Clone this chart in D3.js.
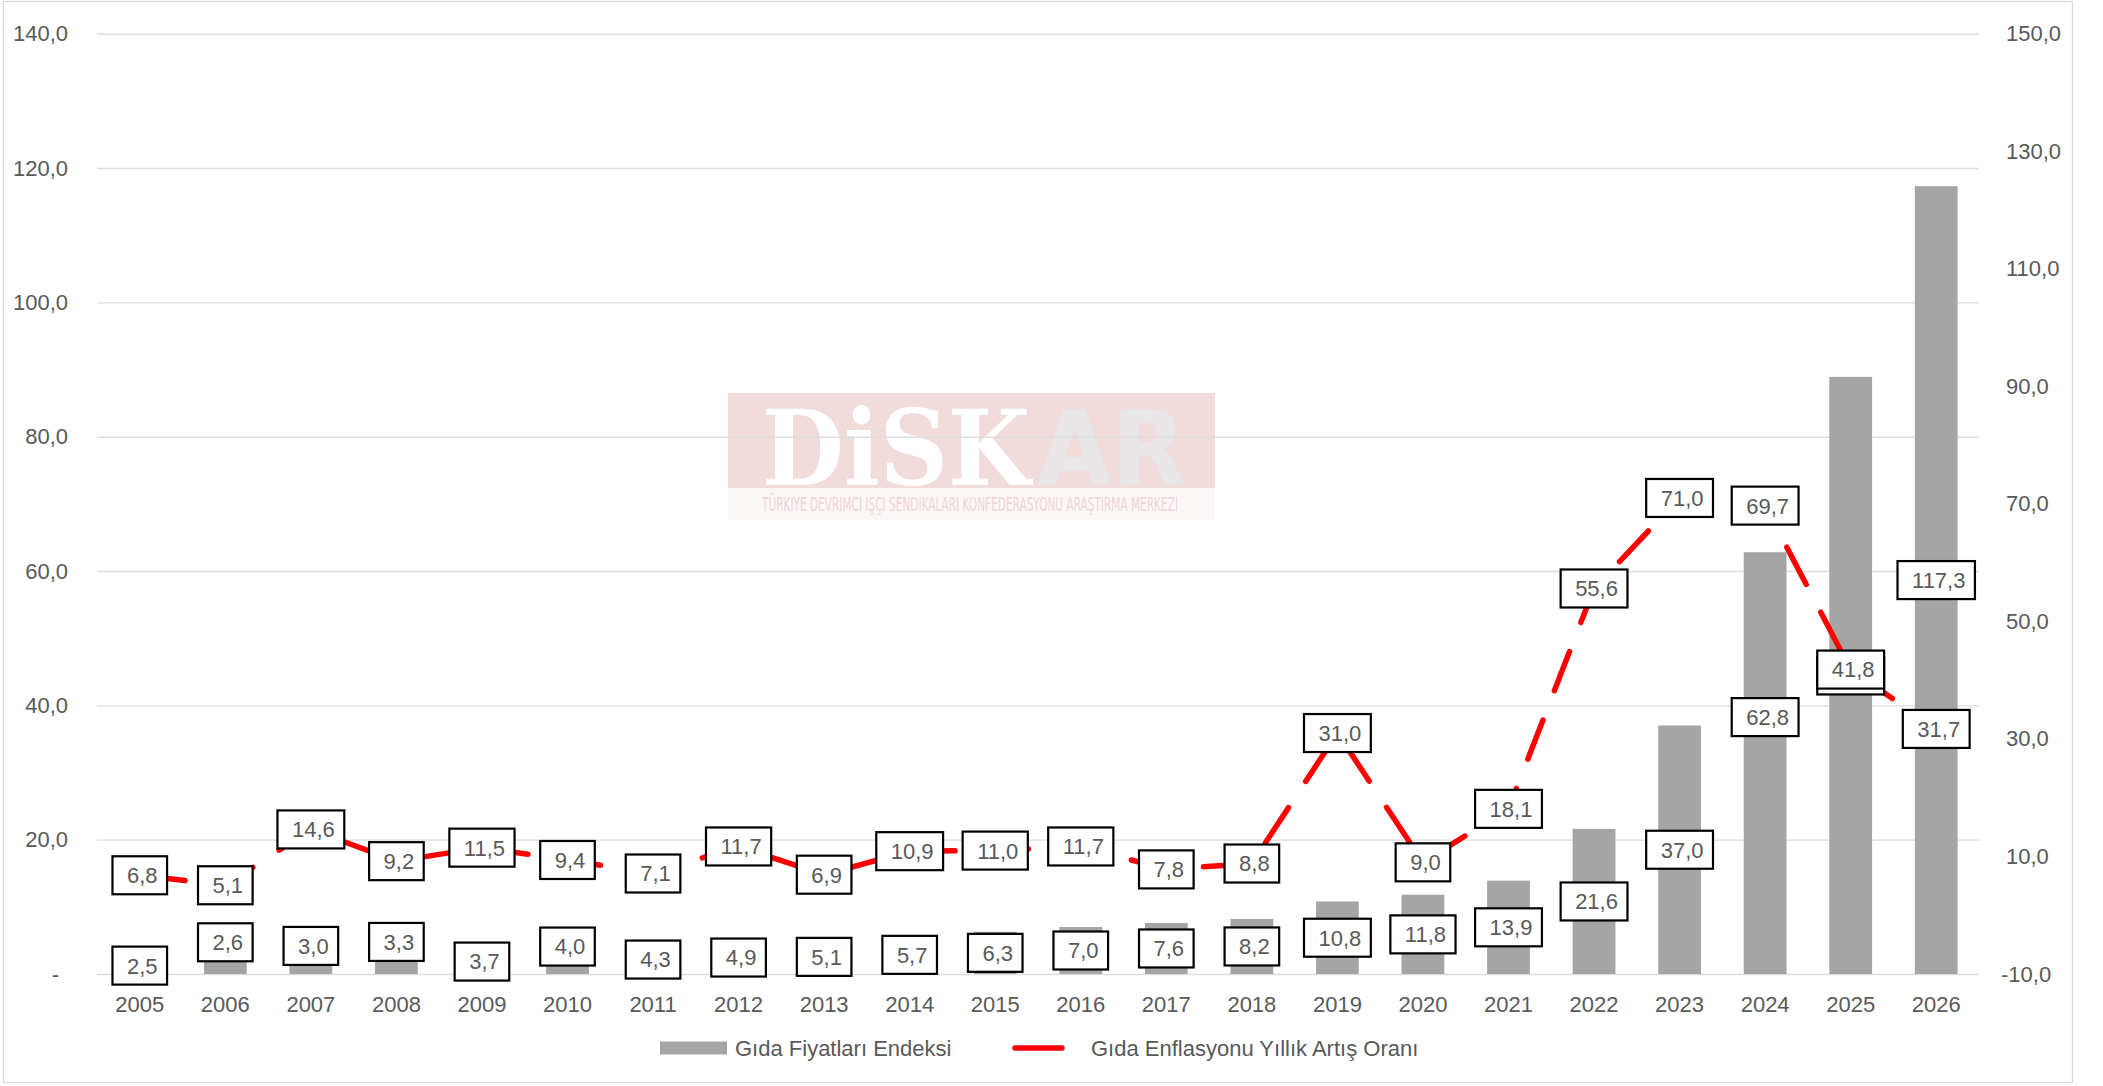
<!DOCTYPE html>
<html>
<head>
<meta charset="utf-8">
<script src="https://cdn.jsdelivr.net/npm/d3@7"></script>
<style>
  html, body { margin: 0; padding: 0; background: #fff; }
  svg { display: block; font-family: "Liberation Sans", Arial, sans-serif; }
</style>
</head>
<body>
<svg class="chart" width="2103" height="1086"></svg>
<script>
const years = ['2005', '2006', '2007', '2008', '2009', '2010', '2011', '2012', '2013', '2014', '2015',
  '2016', '2017', '2018', '2019', '2020', '2021', '2022', '2023', '2024', '2025', '2026']
const foodIndex = [2.5, 2.6, 3.0, 3.3, 3.7, 4.0, 4.3, 4.9, 5.1, 5.7, 6.3,
  7.0, 7.6, 8.2, 10.8, 11.8, 13.9, 21.6, 37.0, 62.8, 88.9, 117.3]
const foodInflation = [6.8, 5.1, 14.6, 9.2, 11.5, 9.4, 7.1, 11.7, 6.9, 10.9, 11.0,
  11.7, 7.8, 8.8, 31.0, 9.0, 18.1, 55.6, 71.0, 69.7, 41.8, 31.7]
const leftTicks = [0, 20, 40, 60, 80, 100, 120, 140]
const rightTicks = [-10, 10, 30, 50, 70, 90, 110, 130, 150]
const seriesNames = ['Gıda Fiyatları Endeksi', 'Gıda Enflasyonu Yıllık Artış Oranı']

// some bar labels were dragged up by hand in the original (px)
const barLabelNudge = {'2006': -23, '2007': -18, '2008': -21, '2010': -14, '2024': -46}

const textColor = '#595959'
const gridColor = '#DDDDDD'
const barColor = '#A5A5A5'
const lineColor = '#FF0000'

const plotLeft = 97, plotRight = 1979, plotTop = 33.7, plotBottom = 974

const svg = d3.select('.chart')

const tr = d3.formatLocale({decimal: ',', thousands: '.', grouping: [3], currency: ['', ''], minus: '-'})
const fmt = tr.format('.1f')

const x = d3.scaleBand()
  .domain(years)
  .range([plotLeft, plotRight])
  .paddingInner(0.5)
  .paddingOuter(0.25)

const yLeft = d3.scaleLinear().domain([0, 140]).range([plotBottom, plotTop])
const yRight = d3.scaleLinear().domain([-10, 150]).range([plotBottom, plotTop])

const cx = (y) => x(y) + x.bandwidth() / 2

// chart border
svg.append('rect')
  .attr('x', 3.5).attr('y', 1.5)
  .attr('width', 2069).attr('height', 1081)
  .attr('fill', '#fff')
  .attr('stroke', '#D9D9D9')
  .attr('stroke-width', 1.3)

// watermark
const wm = svg.append('g').attr('class', 'watermark')
wm.append('rect').attr('x', 728).attr('y', 393).attr('width', 487).attr('height', 95).attr('fill', '#F2DBDB')
wm.append('rect').attr('x', 728).attr('y', 488).attr('width', 487).attr('height', 32).attr('fill', '#FBF7F7')
wm.append('text')
  .attr('x', 762).attr('y', 485)
  .attr('font-family', '"DejaVu Serif", serif')
  .attr('font-weight', 'bold')
  .attr('font-size', 104)
  .attr('textLength', 268)
  .attr('lengthAdjust', 'spacingAndGlyphs')
  .attr('fill', '#fff')
  .text('DiSK')
wm.append('text')
  .attr('x', 1037).attr('y', 485)
  .attr('font-family', '"DejaVu Sans", sans-serif')
  .attr('font-weight', 'bold')
  .attr('font-size', 104)
  .attr('textLength', 149)
  .attr('lengthAdjust', 'spacingAndGlyphs')
  .attr('fill', '#E8E6E6')
  .text('AR')
wm.append('text')
  .attr('x', 762).attr('y', 511)
  .attr('font-family', '"DejaVu Sans Condensed", "Liberation Sans Narrow", sans-serif')
  .attr('font-size', 20)
  .attr('textLength', 416)
  .attr('lengthAdjust', 'spacingAndGlyphs')
  .attr('fill', '#F1D4D4')
  .text('TÜRKIYE DEVRIMCI IŞÇI SENDIKALARI KONFEDERASYONU ARAŞTIRMA MERKEZI')

// gridlines
svg.append('g')
  .attr('class', 'grid')
  .attr('transform', 'translate(' + plotLeft + ',0)')
  .call(d3.axisLeft(yLeft).tickValues(leftTicks).tickSize(-(plotRight - plotLeft)).tickFormat(''))
  .call(g => g.select('.domain').remove())
  .call(g => g.selectAll('line').attr('stroke', gridColor).attr('stroke-width', 1.4))

// bars
svg.append('g')
  .selectAll('rect')
  .data(years)
  .enter()
  .append('rect')
  .attr('x', d => x(d))
  .attr('y', (d, i) => yLeft(foodIndex[i]))
  .attr('width', x.bandwidth())
  .attr('height', (d, i) => yLeft(0) - yLeft(foodIndex[i]))
  .attr('fill', barColor)

// dashed line
const line = d3.line()
  .x(d => cx(d))
  .y((d, i) => yRight(foodInflation[i]))

svg.append('path')
  .datum(years)
  .attr('d', line)
  .attr('fill', 'none')
  .attr('stroke', lineColor)
  .attr('stroke-width', 5.5)
  .attr('stroke-linecap', 'round')
  .attr('stroke-linejoin', 'round')
  .attr('stroke-dasharray', '42 31.4')
  .attr('stroke-dashoffset', -3.6)

// boxed data labels
const drawLabels = (rows) => {
  const lab = svg.append('g')
    .selectAll('g')
    .data(rows)
    .enter()
    .append('g')
    .attr('transform', d => 'translate(' + d.x + ',' + d.y + ')')
  lab.append('rect')
  lab.append('text')
    .attr('x', 2.5)
    .attr('dy', '0.36em')
    .attr('text-anchor', 'middle')
    .attr('font-size', 22)
    .attr('fill', textColor)
    .text(d => d.text)
  lab.each(function () {
    const w = d3.select(this).select('text').node().getComputedTextLength() + 24
    d3.select(this).select('rect')
      .attr('x', -w / 2).attr('y', -19)
      .attr('width', w).attr('height', 38)
      .attr('fill', '#fff')
      .attr('stroke', '#000')
      .attr('stroke-width', 2.2)
  })
}

drawLabels(years.map((y, i) => ({
  x: cx(y),
  y: (yLeft(foodIndex[i]) + yLeft(0)) / 2 + (barLabelNudge[y] || 0),
  text: fmt(foodIndex[i])
})))

drawLabels(years.map((y, i) => ({
  x: cx(y),
  y: yRight(foodInflation[i]),
  text: fmt(foodInflation[i])
})))

// axes labels
svg.append('g')
  .attr('transform', 'translate(68,0)')
  .call(d3.axisLeft(yLeft).tickValues(leftTicks).tickSize(0).tickPadding(0)
    .tickFormat(d => d === 0 ? '-' : fmt(d)))
  .call(g => g.select('.domain').remove())
  .call(g => g.selectAll('text')
    .attr('font-size', 22)
    .attr('font-family', '"Liberation Sans", Arial, sans-serif')
    .attr('fill', textColor)
    .attr('dx', d => d === 0 ? -9 : 0))

svg.append('g')
  .attr('transform', 'translate(2006,0)')
  .call(d3.axisRight(yRight).tickValues(rightTicks).tickSize(0).tickPadding(0).tickFormat(fmt))
  .call(g => g.select('.domain').remove())
  .call(g => g.selectAll('text')
    .attr('font-size', 22)
    .attr('font-family', '"Liberation Sans", Arial, sans-serif')
    .attr('fill', textColor)
    .attr('dx', d => d < 0 ? -5 : 0))

svg.append('g')
  .attr('transform', 'translate(0,' + plotBottom + ')')
  .call(d3.axisBottom(x).tickSize(0).tickPadding(22))
  .call(g => g.select('.domain').remove())
  .call(g => g.selectAll('text')
    .attr('font-size', 22)
    .attr('font-family', '"Liberation Sans", Arial, sans-serif')
    .attr('fill', textColor))

// legend
const legend = svg.append('g').attr('class', 'legend')
legend.append('rect')
  .attr('x', 660).attr('y', 1041.5)
  .attr('width', 67).attr('height', 13)
  .attr('fill', barColor)
legend.append('text')
  .attr('x', 735).attr('y', 1048).attr('dy', '0.35em')
  .attr('font-size', 22)
  .attr('fill', textColor)
  .text(seriesNames[0])
legend.append('line')
  .attr('x1', 1015).attr('x2', 1062)
  .attr('y1', 1048).attr('y2', 1048)
  .attr('stroke', lineColor)
  .attr('stroke-width', 5.5)
  .attr('stroke-linecap', 'round')
legend.append('text')
  .attr('x', 1091).attr('y', 1048).attr('dy', '0.35em')
  .attr('font-size', 22)
  .attr('fill', textColor)
  .text(seriesNames[1])
</script>
</body>
</html>
